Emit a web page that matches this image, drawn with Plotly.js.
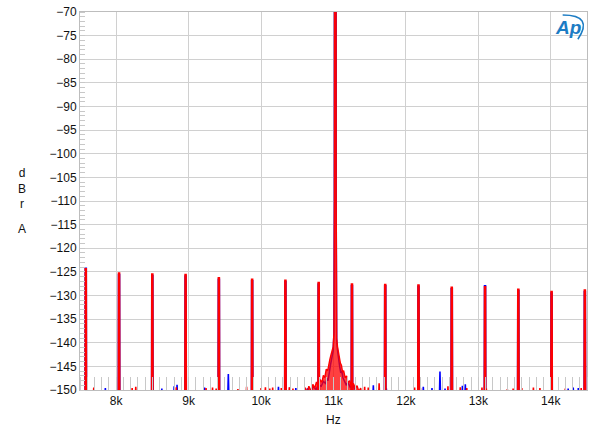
<!DOCTYPE html>
<html>
<head>
<meta charset="utf-8">
<script src="https://cdn.plot.ly/plotly-3.0.1.min.js"></script>
<style>
html,body{margin:0;padding:0;background:#fff;}
#chart{width:600px;height:436px;}
</style>
</head>
<body>
<div id="chart"></div>
<script>
// ---- Data ----
// Jitter-test sidebands: odd harmonics of 229.6875 Hz (Hz) and their peak levels (dBrA)
const spikeHz = [7579.7, 8039.1, 8498.4, 8957.8, 9417.2, 9876.6, 10335.9, 10795.3,
                 11254.7, 11714.1, 12173.4, 12632.8, 13092.2, 13551.6, 14010.9, 14470.3];
const redSpikeDb  = [-124.2, -125.1, -125.3, -125.4, -126.1, -126.4, -126.6, -127.1,
                     -127.4, -127.5, -127.6, -128.1, -128.0, -128.5, -129.0, -128.7];
const blueSpikeDb = [-124.1, -125.4, -125.6, -125.7, -126.4, -126.7, -126.9, -127.4,
                     -127.7, -127.8, -127.9, -128.4, -127.8, -128.8, -129.3, -129.0];

// Small spurs near the noise floor
const redBlipHz = [7690, 8220, 8270, 8830, 9240, 9330, 9380, 9680, 9800, 10000, 10060, 10120,
                   10160, 10280, 10390, 10440, 11430, 11480, 11630, 12120, 12200, 12580, 12750,
                   12840, 13050, 13110, 13400, 13480, 13600, 13760, 13850, 14200, 14420];
const redBlipDb = [-149.5, -149.6, -149.3, -149.4, -149.6, -149.5, -149.7, -149.8, -149.3, -149.6, -149.4, -149.7,
                   -149.5, -149.6, -149.4, -149.7, -149.3, -149.5, -148.6, -149.5, -149.6, -149.2, -149.4,
                   -149.6, -149.5, -149.7, -149.8, -149.7, -149.6, -149.5, -149.6, -149.7, -149.6];
const blueBlipHz = [7850, 8630, 8800, 8840, 9220, 9548, 10240, 10400, 10480, 11550, 11730,
                    12240, 12360, 12470, 12540, 12780, 12820, 14240, 14310, 14380];
const blueBlipDb = [-149.6, -149.7, -149.2, -148.9, -149.5, -146.6, -149.3, -149.5, -149.6, -149.0, -149.7,
                    -149.3, -149.6, -146.1, -149.7, -149.1, -148.8, -149.7, -149.5, -149.6];

// 11.025 kHz fundamental with its noise skirt
const redSkirtHz = [10580, 10610, 10635, 10660, 10690, 10715, 10740, 10765, 10790, 10815, 10840, 10860,
                    10880, 10900, 10920, 10935, 10950, 10965, 10980, 10995, 11006, 11013, 11016, 11034,
                    11037, 11044, 11055, 11068, 11080, 11095, 11110, 11125, 11140, 11160, 11180, 11200,
                    11225, 11250, 11275, 11300, 11325, 11350, 11375, 11400];
const redSkirtDb = [-152, -149.5, -150.6, -149.2, -150.2, -148.8, -149.6, -148.3, -149.2, -147.8, -148.4, -146.9,
                    -147.4, -145.6, -145.9, -144.2, -143.5, -142.6, -141.9, -140.9, -138, -110, 0, 0,
                    -110, -139, -140.8, -142.3, -142.9, -144.3, -144.8, -146.2, -145.9, -147.4, -147.0, -148.4,
                    -148.1, -149.2, -148.6, -149.6, -149.1, -150.3, -149.6, -152];
const blueSkirtHz = [10600, 10640, 10680, 10720, 10760, 10790, 10830, 10860, 10890, 10910, 10925, 10940,
                     10960, 10980, 10995, 11006, 11013, 11016, 11034, 11037, 11044, 11055, 11068, 11085,
                     11100, 11115, 11130, 11150, 11175, 11200, 11230, 11270, 11310, 11350];
const blueSkirtDb = [-152, -149.7, -150.5, -149.3, -149.9, -148.9, -149.2, -148.2, -148.6, -147.6, -148.0, -146.0,
                     -144.6, -143.0, -141.8, -138, -110, 0, 0, -110, -139.5, -141.5, -143.8, -145.0,
                     -146.4, -146.0, -147.4, -148.0, -148.9, -148.4, -149.4, -149.1, -150.2, -152];

const yTicks = [-70, -75, -80, -85, -90, -95, -100, -105, -110, -115, -120, -125, -130, -135, -140, -145, -150];
const xTickVals = [8000, 9000, 10000, 11000, 12000, 13000, 14000];
const xTickText = ['8k', '9k', '10k', '11k', '12k', '13k', '14k'];

// ---- Build line paths (each spur rises from below the -150 floor) ----
const FLOOR = -153;
function spurPath(hz, db, halfW) {
  const x = [], y = [];
  for (let i = 0; i < hz.length; i++) {
    x.push(hz[i] - halfW, hz[i], hz[i] + halfW);
    y.push(FLOOR, db[i], FLOOR);
  }
  return {x, y};
}
const RED = '#ff0000', BLUE = '#0000ff';
const rs = spurPath(spikeHz, redSpikeDb, 3);
const bs = spurPath(spikeHz, blueSpikeDb, 3);
const rb = spurPath(redBlipHz, redBlipDb, 10);
const bb = spurPath(blueBlipHz, blueBlipDb, 10);

const traces = [
  {x: bb.x, y: bb.y, mode: 'lines', line: {color: BLUE, width: 1.6}, hoverinfo: 'skip'},
  {x: blueSkirtHz, y: blueSkirtDb, mode: 'lines', line: {color: BLUE, width: 1.5}, hoverinfo: 'skip'},
  {x: bs.x, y: bs.y, mode: 'lines', line: {color: BLUE, width: 2.6}, hoverinfo: 'skip'},
  {x: rb.x, y: rb.y, mode: 'lines', line: {color: RED, width: 1.6}, hoverinfo: 'skip'},
  {x: redSkirtHz, y: redSkirtDb, mode: 'lines', fill: 'toself', fillcolor: 'rgba(255,0,0,0.75)',
   line: {color: RED, width: 1.4}, hoverinfo: 'skip'},
  {x: rs.x, y: rs.y, mode: 'lines', line: {color: RED, width: 2.6}, hoverinfo: 'skip'}
];

const GRID = '#d0d0d0';
const FONT = 'Liberation Sans, Arial, sans-serif';
const layout = {
  width: 600, height: 436,
  margin: {l: 80, r: 13, t: 12, b: 46},
  paper_bgcolor: '#ffffff', plot_bgcolor: '#ffffff',
  showlegend: false,
  font: {family: FONT, size: 12, color: '#111'},
  xaxis: {
    range: [7500, 14500], tickmode: 'array', tickvals: xTickVals, ticktext: xTickText,
    showgrid: true, gridcolor: GRID, gridwidth: 1, zeroline: false,
    showline: true, linecolor: '#bdbdbd', linewidth: 1, mirror: true,
    ticks: '', tickfont: {family: FONT, size: 12, color: '#111'},
    minor: {dtick: 100, tick0: 7500, ticks: 'inside', ticklen: 13, tickcolor: '#c8c8c8', tickwidth: 1, showgrid: false}
  },
  yaxis: {
    range: [-150, -70], tickmode: 'array', tickvals: yTicks,
    showgrid: true, gridcolor: GRID, gridwidth: 1, zeroline: false,
    showline: true, linecolor: '#bdbdbd', linewidth: 1, mirror: true,
    ticks: '', tickfont: {family: FONT, size: 12, color: '#111'},
    minor: {dtick: 1, tick0: -150, ticks: 'inside', ticklen: 5, tickcolor: '#c8c8c8', tickwidth: 1, showgrid: false}
  },
  annotations: [
    {text: 'Hz', xref: 'paper', yref: 'paper', x: 0.5, y: -0.079, xanchor: 'center', yanchor: 'middle',
     showarrow: false, font: {family: FONT, size: 12, color: '#111'}},
    {text: 'd<br>B<br>r', xref: 'paper', yref: 'paper', x: -0.1144, y: 0.534, xanchor: 'center', yanchor: 'middle',
     showarrow: false, font: {family: FONT, size: 12, color: '#111'}},
    {text: 'A', xref: 'paper', yref: 'paper', x: -0.1144, y: 0.426, xanchor: 'center', yanchor: 'middle',
     showarrow: false, font: {family: FONT, size: 12, color: '#111'}},
    {text: '<b><i>Ap</i></b>', xref: 'paper', yref: 'paper', x: 0.9625, y: 0.959, xanchor: 'center', yanchor: 'middle',
     showarrow: false, font: {family: FONT, size: 19, color: '#1c7cc4'}}
  ],
  shapes: [
    {type: 'path', xref: 'paper', yref: 'paper',
     path: 'M 0.952,0.992 Q 1.014,0.992 0.982,0.928',
     line: {color: '#1c7cc4', width: 1.6}}
  ]
};

Plotly.newPlot('chart', traces, layout, {staticPlot: true, displayModeBar: false});
</script>
</body>
</html>
